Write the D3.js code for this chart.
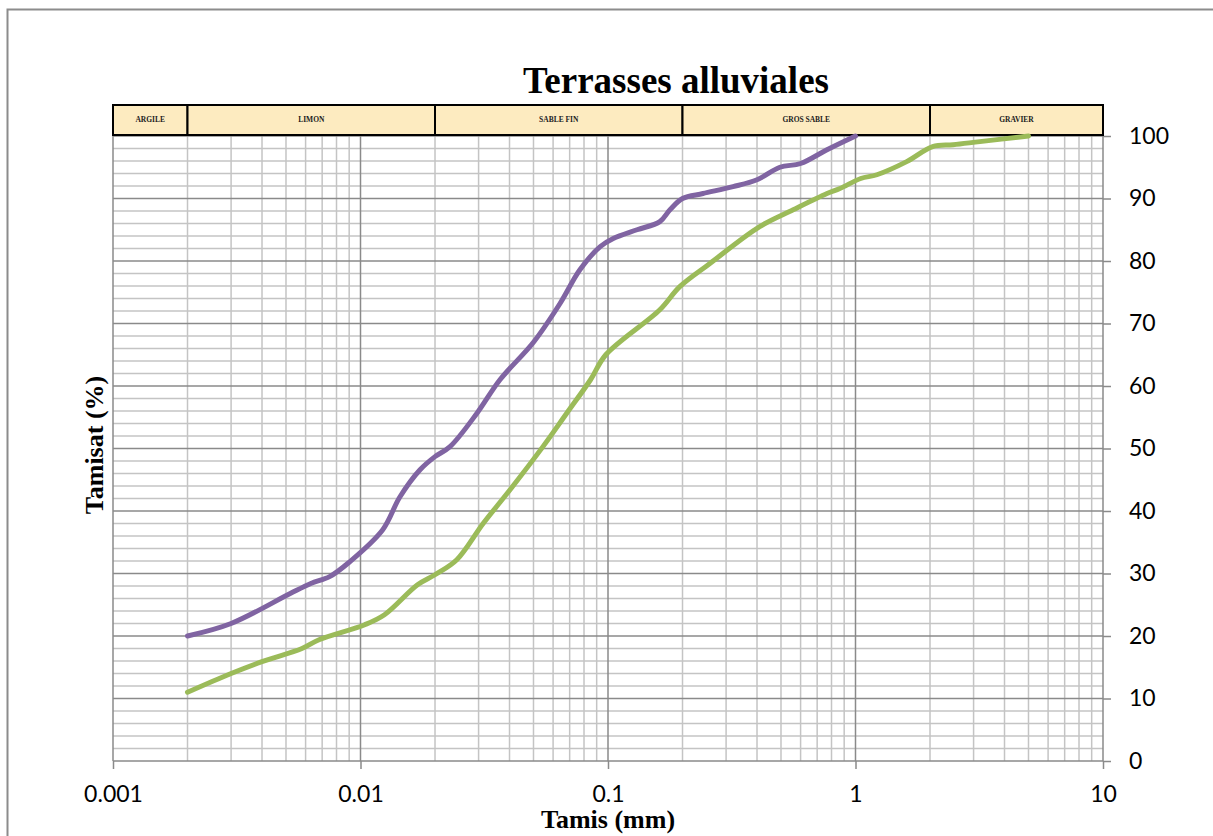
<!DOCTYPE html>
<html>
<head>
<meta charset="utf-8">
<script src="https://cdn.jsdelivr.net/npm/d3@7/dist/d3.min.js"></script>
<style>
  html, body { margin: 0; padding: 0; background: #fff; }
  svg { display: block; }
</style>
</head>
<body>
<div id="chart"></div>
<script>
const WIDTH = 1213;
const HEIGHT = 836;
const PURPLE = '#8064a2';
const GREEN = '#9bbb59';
const MINOR_GRID = '#c4c4c4';
const MAJOR_GRID = '#8a8a8a';

// sieve sizes (mm) and passing percentages
const purpleSizes = [0.002, 0.003, 0.0052, 0.0063, 0.0075, 0.009, 0.0123, 0.0144, 0.0174, 0.02, 0.023, 0.0295, 0.0366, 0.05, 0.064, 0.077, 0.093, 0.105, 0.131, 0.162, 0.178, 0.2, 0.242, 0.32, 0.4, 0.495, 0.6, 0.767, 1];
const purpleValues = [20, 22, 26.8, 28.4, 29.5, 31.8, 37, 42.2, 46.6, 48.7, 50.3, 55.6, 61, 67, 73.2, 78.6, 82.3, 83.6, 85, 86.3, 88.2, 90, 90.8, 91.9, 93, 95, 95.6, 97.8, 100];

const greenSizes = [0.002, 0.003, 0.004, 0.0058, 0.0068, 0.0104, 0.0125, 0.017, 0.02, 0.0245, 0.0313, 0.0402, 0.0546, 0.068, 0.085, 0.098, 0.162, 0.195, 0.258, 0.41, 0.56, 0.767, 0.865, 1.05, 1.22, 1.61, 2.05, 2.48, 3.18, 5];
const greenValues = [11, 14, 15.9, 18, 19.4, 21.8, 23.4, 28.2, 29.8, 32.2, 38, 43.4, 50.3, 55.6, 61, 65, 72.2, 75.9, 79.6, 85.5, 88.2, 90.8, 91.6, 93.2, 93.8, 95.9, 98.3, 98.6, 99.1, 100];

// soil classes along the top band
const bandNames = ['ARGILE', 'LIMON', 'SABLE FIN', 'GROS SABLE', 'GRAVIER'];
const bandBounds = [0.001, 0.002, 0.02, 0.2, 2, 10];

const xTicks = [0.001, 0.01, 0.1, 1, 10];
const yTicks = [0, 10, 20, 30, 40, 50, 60, 70, 80, 90, 100];

const svg = d3.select('#chart')
  .append('svg')
  .attr('width', WIDTH)
  .attr('height', HEIGHT);

// outer chart frame
svg.append('rect')
  .attr('x', 7.5).attr('y', 9.5)
  .attr('width', WIDTH + 20).attr('height', HEIGHT + 20)
  .attr('fill', 'none')
  .attr('stroke', '#8c8c8c')
  .attr('stroke-width', 2);

const x = d3.scaleLog().domain([0.001, 10]).range([113, 1103]);
const y = d3.scaleLinear().domain([0, 100]).range([761, 136]);

// minor log gridlines (2..9 in each decade)
const minorX = [];
for (let e = -3; e < 1; e++) {
  for (let m = 2; m <= 9; m++) minorX.push(m * Math.pow(10, e));
}
const minorY = d3.range(0, 101, 2).filter(v => v % 10 !== 0);

const grid = svg.append('g');
grid.selectAll('.hminor')
  .data(minorY)
  .enter()
  .append('line')
  .attr('x1', x(0.001)).attr('x2', x(10))
  .attr('y1', d => y(d)).attr('y2', d => y(d))
  .attr('stroke', MINOR_GRID).attr('stroke-width', 1.5);

grid.selectAll('.vminor')
  .data(minorX)
  .enter()
  .append('line')
  .attr('x1', d => x(d)).attr('x2', d => x(d))
  .attr('y1', y(0)).attr('y2', y(100))
  .attr('stroke', MINOR_GRID).attr('stroke-width', 1.5);

grid.selectAll('.hmajor')
  .data(yTicks)
  .enter()
  .append('line')
  .attr('x1', x(0.001)).attr('x2', x(10))
  .attr('y1', d => y(d)).attr('y2', d => y(d))
  .attr('stroke', MAJOR_GRID).attr('stroke-width', 1.5);

grid.selectAll('.vmajor')
  .data(xTicks)
  .enter()
  .append('line')
  .attr('x1', d => x(d)).attr('x2', d => x(d))
  .attr('y1', y(0)).attr('y2', y(100))
  .attr('stroke', MAJOR_GRID).attr('stroke-width', 1.5);

// axes
const yAxis = d3.axisRight(y).tickValues(yTicks).tickSize(8).tickPadding(18);
const gy = svg.append('g')
  .attr('transform', `translate(${x(10)},0)`)
  .call(yAxis);
gy.select('.domain').remove();
gy.selectAll('.tick line').attr('stroke', MAJOR_GRID).attr('stroke-width', 1.5);
gy.selectAll('.tick text')
  .attr('fill', '#000')
  .style('font-family', 'Lato, "Open Sans", sans-serif')
  .style('font-size', '23px');

const xAxis = d3.axisBottom(x).tickValues(xTicks).tickFormat(d => String(d)).tickSize(8).tickPadding(17);
const gx = svg.append('g')
  .attr('transform', `translate(0,${y(0)})`)
  .call(xAxis);
gx.select('.domain').remove();
gx.selectAll('.tick line').attr('stroke', MAJOR_GRID).attr('stroke-width', 1.5);
gx.selectAll('.tick text')
  .attr('fill', '#000')
  .style('font-family', 'Lato, "Open Sans", sans-serif')
  .style('font-size', '23px');

// soil class band
const band = svg.append('g');
const bandData = bandNames.map((name, i) => ({ name, from: bandBounds[i], to: bandBounds[i + 1] }));
band.selectAll('rect')
  .data(bandData)
  .enter()
  .append('rect')
  .attr('x', d => x(d.from))
  .attr('y', 105)
  .attr('width', d => x(d.to) - x(d.from))
  .attr('height', 30)
  .attr('fill', '#fdebc0')
  .attr('stroke', '#000')
  .attr('stroke-width', 2);
band.selectAll('text')
  .data(bandData)
  .enter()
  .append('text')
  .attr('x', d => (x(d.from) + x(d.to)) / 2)
  .attr('y', 122)
  .attr('text-anchor', 'middle')
  .attr('fill', '#222')
  .style('font-family', '"Liberation Serif", "Times New Roman", serif')
  .style('font-weight', 'bold')
  .style('font-size', '7.5px')
  .text(d => d.name);

// curves
const line = d3.line()
  .x(d => x(d[0]))
  .y(d => y(d[1]))
  .curve(d3.curveCatmullRom.alpha(0.5));

const series = [
  { color: PURPLE, points: d3.zip(purpleSizes, purpleValues) },
  { color: GREEN, points: d3.zip(greenSizes, greenValues) }
];

svg.append('g')
  .selectAll('path')
  .data(series)
  .enter()
  .append('path')
  .attr('d', d => line(d.points))
  .attr('fill', 'none')
  .attr('stroke', d => d.color)
  .attr('stroke-width', 5)
  .attr('stroke-linejoin', 'round')
  .attr('stroke-linecap', 'round');

// titles
svg.append('text')
  .attr('x', 676)
  .attr('y', 93)
  .attr('text-anchor', 'middle')
  .style('font-family', '"Liberation Serif", "Times New Roman", serif')
  .style('font-weight', 'bold')
  .style('font-size', '37px')
  .text('Terrasses alluviales');

svg.append('text')
  .attr('x', 608)
  .attr('y', 828)
  .attr('text-anchor', 'middle')
  .style('font-family', '"Liberation Serif", "Times New Roman", serif')
  .style('font-weight', 'bold')
  .style('font-size', '26px')
  .text('Tamis (mm)');

svg.append('text')
  .attr('transform', 'translate(103,445) rotate(-90)')
  .attr('text-anchor', 'middle')
  .style('font-family', '"Liberation Serif", "Times New Roman", serif')
  .style('font-weight', 'bold')
  .style('font-size', '26px')
  .text('Tamisat (%)');
</script>
</body>
</html>
